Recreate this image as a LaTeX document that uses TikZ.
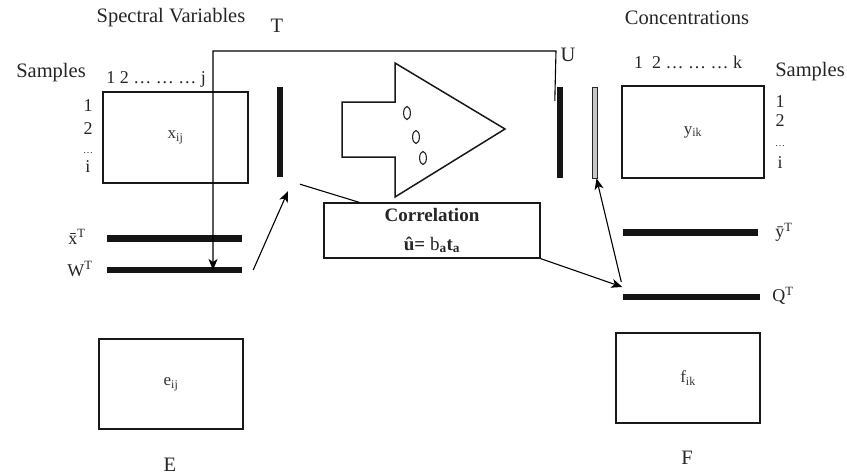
\documentclass[tikz,border=0pt]{standalone}
\usepackage{fontspec}
\setmainfont{Liberation Serif}
\usetikzlibrary{arrows.meta,calc}
\begin{document}
\begin{tikzpicture}[x=1pt,y=-1pt,
  txt/.style={text=black!85, inner sep=0pt, font=\fontsize{20.5}{24}\selectfont},
  small/.style={text=black!85, inner sep=0pt, font=\fontsize{18}{21}\selectfont},
  sub/.style={text=black!80, font=\fontsize{17}{20}\selectfont},
  box/.style={draw=black!90, line width=1.2pt, inner sep=0pt},
  bar/.style={fill=black!92, draw=none, inner sep=0pt},
  conn/.style={draw=black, line width=1.1pt},
  arr/.style={conn, -{Stealth[length=11pt,width=9pt,inset=3pt]}}]
\useasboundingbox (0,0) rectangle (847,475);
\fill[white] (0,0) rectangle (847,475);
% headers
\node[txt] (sv) at (171,18) {Spectral Variables};
\node[txt] (T) at (277,26) {T};
\node[txt] (conc) at (687,18) {Concentrations};
\node[txt] (samL) at (51,73) {Samples};
\node[txt] (samR) at (810,72) {Samples};
\node[small] (colL) at (156,79) {1 2 \ldots{} \ldots{} \ldots{} j};
\node[small] (colR) at (688,62) {1\enspace 2 \ldots{} \ldots{} \ldots{} k};
% row labels
\node[small] (l1) at (88,106) {1};
\node[small] (l2) at (88,129) {2};
\node[txt, font=\fontsize{10}{11}\selectfont] (l3) at (88,153) {\ldots};
\node[small] (l4) at (88,167) {i};
\node[small] (r1) at (780,102) {1};
\node[small] (r2) at (780,121) {2};
\node[txt, font=\fontsize{10}{11}\selectfont] (r3) at (780,146) {\ldots};
\node[small] (r4) at (780,163) {i};
% matrices
\node[box, sub, minimum width=145pt, minimum height=91pt] (X) at (175.5,137.5) {x\textsubscript{ij}};
\node[box, sub, minimum width=142pt, minimum height=92pt] (Y) at (693,132) {y\textsubscript{ik}};
\node[box, sub, minimum width=144pt, minimum height=90pt] (E) at (171,384) {e\textsubscript{ij}};
\node[box, sub, minimum width=144pt, minimum height=90pt] (F) at (688,378) {f\textsubscript{ik}};
\node[txt] (Elab) at (170,465) {E};
\node[txt] (Flab) at (687,458) {F};
% vertical bars
\node[bar, minimum width=6pt, minimum height=90pt] (Tbar) at (280,132) {};
\node[bar, minimum width=6pt, minimum height=91pt] (Ubar) at (560,132.5) {};
\node[fill=black!22, draw=black!85, line width=0.8pt, inner sep=0pt, minimum width=5pt, minimum height=91pt] (Ghat) at (594.5,132.5) {};
% horizontal bars
\node[bar, minimum width=135pt, minimum height=7pt] (xbar) at (174.5,238) {};
\node[bar, minimum width=135pt, minimum height=6pt] (Wbar) at (174.5,270) {};
\node[bar, minimum width=135pt, minimum height=7pt] (ybar) at (690.5,232) {};
\node[bar, minimum width=137pt, minimum height=6pt] (Qbar) at (691,297) {};
\node[small] (xbl) at (77,237) {\={x}\textsuperscript{T}};
\node[small] (Wl) at (80,269) {W\textsuperscript{T}};
\node[small] (ybl) at (784,232) {\={y}\textsuperscript{T}};
\node[small] (Ql) at (783,296) {Q\textsuperscript{T}};
% U label
\node[txt] (U) at (568,55) {U};
% big arrow
\draw[line width=1.5pt, draw=black!90] (342,102) -- (395,102) -- (395,63) -- (505,129) -- (395,197) -- (395,157) -- (342,157) -- cycle;
\foreach \px/\py in {407/113, 416/137, 423/158}
  \draw[line width=1.1pt, draw=black!85] (\px,\py) ellipse (3.4pt and 6.5pt);
% correlation box
\node[box, minimum width=216pt, minimum height=55pt, align=center, text=black!85, font=\fontsize{19}{21}\selectfont] (corr) at (432,230.5)
  {\textbf{Correlation}\\[8pt]\textbf{û=} b\textsubscript{\textbf{a}}\textbf{t\textsubscript{a}}};
% connectors
\coordinate (tstart) at ($(Ubar.north west)+(-2,14)$);
\coordinate (tc1) at (556,51);
\coordinate (tc2) at (213,51);
\draw[arr] (tstart) -- (tc1) -- (tc2) -- ($(Wbar.center)+(38.5,0)$);
\draw[arr] ($(Wbar.east)+(11,0)$) -- ($(Tbar.south)+(8,14)$);
\draw[conn] ($(corr.north west)+(36,0)$) -- ($(Tbar.south)+(20,7)$);
\draw[arr] (corr.south east) -- ($(Qbar.west)+(0,-10)$);
\draw[arr] ($(Qbar.west)+(-1,-15)$) -- ($(Ghat.south)+(2,0)$);
\end{tikzpicture}
\end{document}
